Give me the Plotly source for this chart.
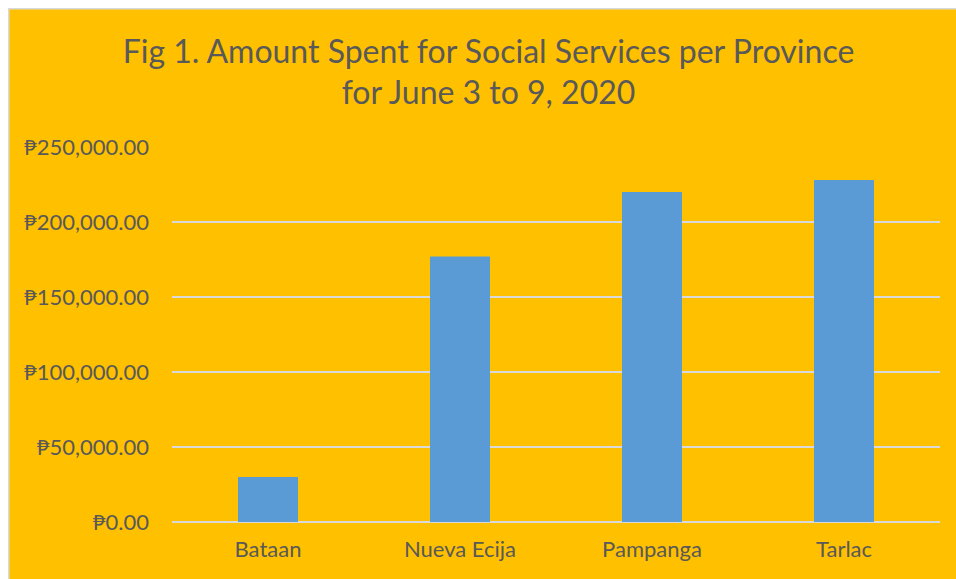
import plotly.graph_objects as go

provinces = ["Bataan", "Nueva Ecija", "Pampanga", "Tarlac"]
amounts = [30000, 177000, 220000, 228000]
y_ticks = [0, 50000, 100000, 150000, 200000, 250000]
y_tick_labels = ["₱" + f"{v:,.2f}" for v in y_ticks]

ML, MR, MT, MB = 164, 16, 139, 57
pw, ph = 768, 375
W = ML + pw + MR
H = MT + ph + MB

fig = go.Figure(
    go.Bar(
        x=provinces,
        y=amounts,
        marker=dict(color="#5B9BD5", line=dict(width=0)),
        hoverinfo="x+y",
    )
)

font_family = "Lato, 'Noto Sans', 'DejaVu Sans', sans-serif"

fig.update_layout(
    width=W,
    height=H,
    margin=dict(l=ML, r=MR, t=MT, b=MB, pad=0),
    paper_bgcolor="#FFC000",
    plot_bgcolor="#FFC000",
    bargap=0.6875,
    showlegend=False,
    font=dict(family=font_family, color="#595959", size=22),
    title=dict(
        text="Fig 1. Amount Spent for Social Services per Province<br>for June 3 to 9, 2020",
        x=(488.5 - 8) / W,
        xanchor="center",
        y=1 - 54.5 / H,
        yanchor="middle",
        font=dict(size=32, color="#595959", family=font_family),
    ),
    xaxis=dict(
        showgrid=False,
        showline=False,
        zeroline=False,
        ticks="",
        ticklabelstandoff=12,
        tickfont=dict(size=22, color="#595959"),
    ),
    yaxis=dict(
        range=[0, 250000],
        tickmode="array",
        tickvals=y_ticks,
        ticktext=y_tick_labels,
        showgrid=True,
        gridcolor="#D9D9D9",
        gridwidth=2,
        zeroline=True,
        zerolinecolor="#D9D9D9",
        zerolinewidth=2,
        showline=False,
        ticks="",
        ticklabelstandoff=22,
        tickfont=dict(size=22, color="#595959"),
    ),
    shapes=[
        dict(
            type="line",
            xref="paper",
            yref="paper",
            x0=-ML / pw,
            x1=1 + MR / pw,
            y0=1 + MT / ph,
            y1=1 + MT / ph,
            line=dict(color="#D9D9D9", width=3),
            layer="below",
        ),
        dict(
            type="line",
            xref="paper",
            yref="paper",
            x0=-ML / pw,
            x1=-ML / pw,
            y0=-MB / ph,
            y1=1 + MT / ph,
            line=dict(color="#D9D9D9", width=3),
            layer="below",
        ),
    ],
)

fig.write_html(
    "out.html",
    post_script=(
        "document.documentElement.style.overflow='hidden';"
        "document.body.style.margin='8px 0 0 8px';"
    ),
)
